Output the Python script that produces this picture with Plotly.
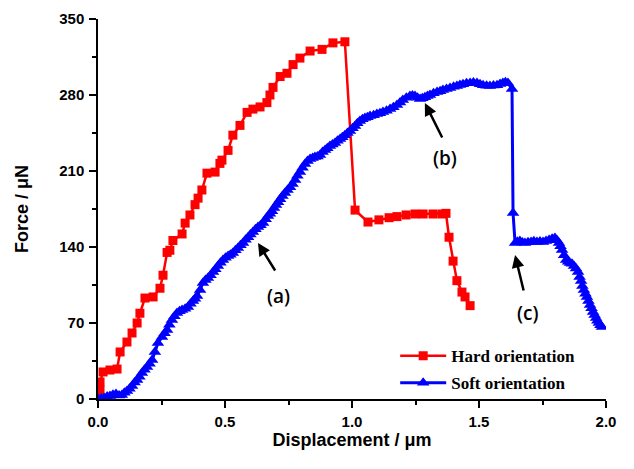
import plotly.graph_objects as go

# ---------------- data ----------------
hard_x = [0.005, 0.008, 0.008, 0.02, 0.047, 0.075, 0.087, 0.114, 0.134, 0.154, 0.165,
          0.185, 0.217, 0.244, 0.256, 0.272, 0.283, 0.295, 0.331, 0.343, 0.362, 0.382,
          0.394, 0.409, 0.429, 0.461, 0.48, 0.488, 0.512, 0.531, 0.559, 0.587, 0.61,
          0.638, 0.665, 0.677, 0.689, 0.717, 0.744, 0.768, 0.795, 0.835, 0.882, 0.925,
          0.972, 1.012, 1.063, 1.106, 1.146, 1.177, 1.213, 1.248, 1.28, 1.319, 1.354,
          1.37, 1.382, 1.398, 1.413, 1.433, 1.445, 1.465]
hard_y = [1, 8.3, 15.7, 24.9, 26.7, 27.6, 43.3, 52.5, 60.8, 70, 79,
          93, 94, 102, 114, 135, 137, 146, 152, 162, 169.5, 179,
          185, 192.5, 208, 209, 217, 220, 229, 243, 252, 264, 267,
          269, 273, 280, 287, 297, 300, 308, 314, 320.5, 322, 328,
          329, 174, 163, 165, 167, 168, 169.5, 170.4, 170.4, 170.4, 170.4,
          171, 149, 127, 109, 98.5, 94, 86]

soft_x = [0, 0.012, 0.024, 0.036, 0.047, 0.059, 0.071, 0.083, 0.094, 0.104, 0.114,
          0.124, 0.134, 0.144, 0.154, 0.163, 0.173, 0.183, 0.193, 0.203, 0.213,
          0.224, 0.236, 0.252, 0.262, 0.272, 0.281, 0.291, 0.301, 0.311, 0.321,
          0.331, 0.343, 0.354, 0.364, 0.374, 0.382, 0.39,
          0.402, 0.413, 0.423, 0.433, 0.443, 0.453, 0.462, 0.472, 0.482, 0.492,
          0.502, 0.512, 0.521, 0.531, 0.541, 0.551, 0.561, 0.571,
          0.581, 0.591, 0.6, 0.61, 0.62, 0.63, 0.64, 0.65, 0.66, 0.669, 0.677, 0.685,
          0.693, 0.701, 0.709, 0.717, 0.726, 0.736, 0.746, 0.756,
          0.766, 0.776, 0.785, 0.795, 0.805, 0.815, 0.825, 0.835, 0.845, 0.854,
          0.864, 0.874, 0.884, 0.894, 0.903, 0.913, 0.923, 0.933, 0.943, 0.953,
          0.962, 0.972, 0.982, 0.992, 1.002, 1.012, 1.021, 1.031, 1.041, 1.051,
          1.061, 1.071, 1.085, 1.098, 1.11, 1.122, 1.136, 1.15, 1.163, 1.177,
          1.189, 1.2, 1.214, 1.228, 1.238, 1.248, 1.258, 1.268, 1.277, 1.287,
          1.297, 1.307, 1.321, 1.335, 1.347, 1.358, 1.372, 1.386, 1.4, 1.413,
          1.425, 1.437, 1.451, 1.465, 1.478, 1.492, 1.504, 1.516, 1.53, 1.543,
          1.557, 1.571, 1.583, 1.594, 1.604, 1.614, 1.63, 1.634,
          1.642, 1.651, 1.661, 1.671, 1.681, 1.693, 1.705, 1.716, 1.728, 1.74,
          1.752, 1.764, 1.776, 1.788, 1.799, 1.807, 1.815, 1.821, 1.827,
          1.835, 1.843, 1.851, 1.858, 1.866, 1.874, 1.882, 1.89, 1.896, 1.902,
          1.907, 1.913, 1.919, 1.925, 1.931, 1.937, 1.943, 1.949, 1.955, 1.961,
          1.966, 1.972, 1.978, 1.984]
soft_y = [0, 0.5, 0.9, 2.2, 2.8, 3.9, 4.6, 3.2, 3.7, 5.8, 7.4,
          9.5, 12, 15.1, 17.5, 20.4, 24, 27.0, 29.5, 32.4, 36,
          43.3, 51.6, 57, 60.5, 63.6, 68.4, 72.8, 76.3, 79.2, 80.9,
          82, 83.1, 84.7, 87.8, 90.3, 92.4, 94.9,
          100.4, 106.8, 109.5, 111.4, 114.0, 117, 119.6, 122.5, 125.6, 128,
          130.1, 131.7, 132.8, 134.5, 136.9, 139, 141.7, 143.7,
          146.6, 149, 151.5, 153.8, 156.4, 158.4, 160.0, 162, 165.6, 168.5, 170.6, 173,
          176.0, 178.7, 181.2, 184, 186.9, 189.7, 192.6, 195,
          198.0, 201.7, 205.6, 209, 213.1, 216.4, 219.3, 221, 222.0, 222.9,
          223.4, 224.7, 227.4, 229.3, 231.0, 233, 234.3, 235.8, 237.8, 239.5,
          241.2, 243, 245.1, 246.8, 249.3, 251.4, 253.9, 256, 257.6, 258.8,
          259.6, 260.7, 261.4, 262.5, 263.2, 264.3, 265.5, 267, 268.8, 270.8,
          273.2, 275.4, 277.5, 279, 279.6, 279, 277.4, 276.3, 277.0, 278,
          279.1, 280, 281.6, 282.8, 283.5, 284.6, 285.6, 286.4, 287.5, 288.3,
          289.1, 290, 290.8, 291, 291.6, 291, 289.8, 289, 288.5, 288.3,
          288.8, 289, 290.2, 291, 291.8, 291, 285.5, 171.3,
          143.7, 144.8, 145.5, 144.2, 143.7, 144.3, 144.6, 145.3, 144.6, 145.0,
          144.6, 145.6, 146.4, 147.6, 148.3, 146.2, 143.7, 140.6, 137.2,
          132.4, 128, 126.3, 125.3, 124.5, 122.5, 120.1, 117, 112.3, 108.6,
          104.1, 100.4, 97.0, 94, 90.2, 86.6, 83.5, 80.1, 77.4, 74.6,
          72.1, 70, 68.0, 66.3]

x_ticks = [0.0, 0.5, 1.0, 1.5, 2.0]
x_tick_labels = ["0.0", "0.5", "1.0", "1.5", "2.0"]
y_ticks = [0, 70, 140, 210, 280, 350]
y_tick_labels = ["0", "70", "140", "210", "280", "350"]

series_names = ["Hard orientation", "Soft orientation"]
note_labels = ["(a)", "(b)", "(c)"]

# ---------------- figure ----------------
fig = go.Figure()
fig.add_trace(go.Scatter(
    x=hard_x, y=hard_y, mode="lines+markers", name=series_names[0],
    legendgroup="hard",
    line=dict(color="#FF0000", width=2.5),
    marker=dict(symbol="square", size=9, color="#FF0000"),
))
fig.add_trace(go.Scatter(
    x=soft_x, y=soft_y, mode="lines+markers", name=series_names[1],
    legendgroup="soft",
    line=dict(color="#0000FF", width=3),
    marker=dict(symbol="triangle-up", size=11, color="#0000FF"),
))

arrow_style = dict(showarrow=True, arrowhead=2, arrowsize=1, arrowwidth=2.5,
                   arrowcolor="black", axref="x", ayref="y", text="")
# arrows: head (x,y), tail (ax,ay)
fig.add_annotation(x=0.63, y=143.7, ax=0.701, ay=117, **arrow_style)
fig.add_annotation(x=1.287, y=272.6, ax=1.358, ay=239.5, **arrow_style)
fig.add_annotation(x=1.642, y=132.6, ax=1.677, ay=98.6, **arrow_style)

label_font = dict(family="Open Sans, Lato, sans-serif", size=19, color="black", weight=600)
fig.add_annotation(x=0.709, y=94.9, text=note_labels[0], showarrow=False, font=label_font)
fig.add_annotation(x=1.366, y=222, text=note_labels[1], showarrow=False, font=label_font)
fig.add_annotation(x=1.689, y=79.2, text=note_labels[2], showarrow=False, font=label_font)

tick_font = dict(family="Liberation Sans, Arial, sans-serif", size=15, color="black")
title_font = dict(family="Liberation Sans, Arial, sans-serif", size=18, color="black")

fig.update_layout(
    width=626, height=461,
    margin=dict(l=90, r=28, t=11, b=70, autoexpand=False),
    paper_bgcolor="white", plot_bgcolor="white",
    showlegend=True,
    legend=dict(
        x=0.585, y=0.16, xanchor="left", yanchor="top",
        font=dict(family="Liberation Serif, Times New Roman, serif", size=17,
                  color="black", weight="bold"),
        bgcolor="rgba(0,0,0,0)", itemwidth=46,
        traceorder="grouped", tracegroupgap=2,
    ),
    xaxis=dict(
        range=[0, 2.0], showgrid=False, zeroline=False, automargin=False,
        showline=True, linecolor="black", linewidth=1.5,
        ticks="outside", ticklen=7, tickwidth=1.5, tickcolor="black",
        tickvals=x_ticks, ticktext=["<b>%s</b>" % t for t in x_tick_labels],
        tickfont=tick_font, ticklabelstandoff=1,
        minor=dict(ticks="outside", ticklen=4, tickwidth=1.5, tickcolor="black", dtick=0.25),
        title=dict(text="<b>Displacement / μm</b>", font=title_font, standoff=5),
    ),
    yaxis=dict(
        range=[0, 350], showgrid=False, zeroline=False, automargin=False,
        showline=True, linecolor="black", linewidth=1.5,
        ticks="outside", ticklen=7, tickwidth=1.5, tickcolor="black",
        tickvals=y_ticks, ticktext=["<b>%s</b>" % t for t in y_tick_labels],
        tickfont=tick_font, ticklabelstandoff=2,
        minor=dict(ticks="outside", ticklen=4, tickwidth=1.5, tickcolor="black", dtick=35),
        title=dict(text="<b>Force / μN</b>", font=title_font, standoff=26),
    ),
)

fig.write_html("out.html")
